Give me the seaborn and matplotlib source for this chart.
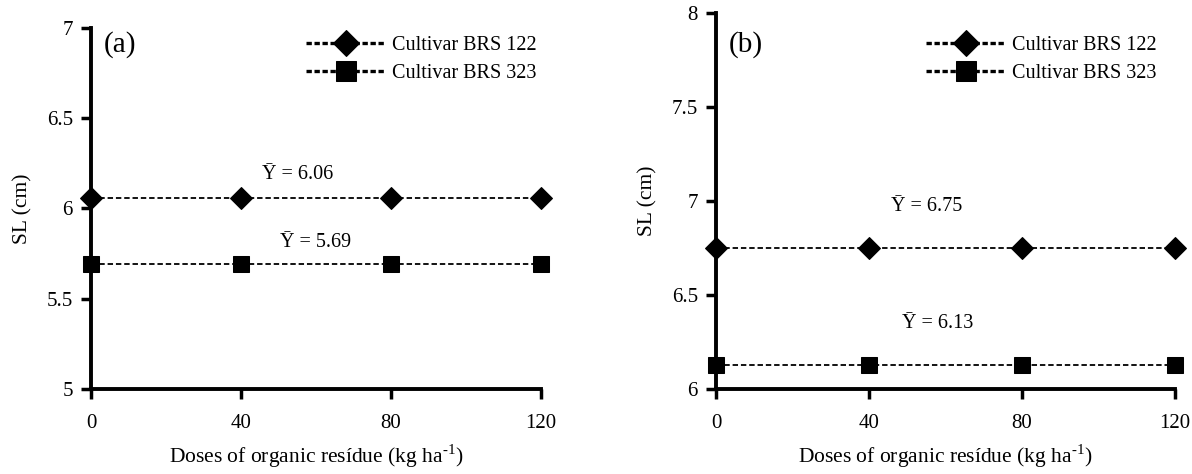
"""Seedling length (SL) of two sorghum cultivars under organic residue doses."""

import matplotlib.pyplot as plt
import pandas as pd
import seaborn as sns


DOSES = [0, 40, 80, 120]
CULTIVARS = ["Cultivar BRS 122", "Cultivar BRS 323"]
SL_A_BRS122 = [6.06, 6.06, 6.06, 6.06]
SL_A_BRS323 = [5.69, 5.69, 5.69, 5.69]
SL_B_BRS122 = [6.75, 6.75, 6.75, 6.75]
SL_B_BRS323 = [6.13, 6.13, 6.13, 6.13]
MEAN_LABELS_A = ["\u0232 = 6.06", "\u0232 = 5.69"]
MEAN_LABELS_B = ["\u0232 = 6.75", "\u0232 = 6.13"]
YTICKS_A = [5, 5.5, 6, 6.5, 7]
YTICKS_B = [6, 6.5, 7, 7.5, 8]
YTICK_LABELS_A = ["5", "5.5", "6", "6.5", "7"]
YTICK_LABELS_B = ["6", "6.5", "7", "7.5", "8"]

W, H = 1192, 474


def build_frame(values_122, values_323):
    return pd.DataFrame(
        {
            "dose": DOSES * 2,
            "sl": values_122 + values_323,
            "cultivar": [CULTIVARS[0]] * 4 + [CULTIVARS[1]] * 4,
        }
    )


def draw_panel(fig, ax, df, yticks, ytick_labels, tag, tag_px, legend_px,
               mean_labels, mean_pos):
    sns.lineplot(
        data=df,
        x="dose",
        y="sl",
        style="cultivar",
        markers={CULTIVARS[0]: "D", CULTIVARS[1]: "s"},
        dashes={CULTIVARS[0]: (3, 1.6), CULTIVARS[1]: (3, 1.6)},
        color="black",
        linewidth=1.3,
        markersize=11,
        markeredgecolor="black",
        ax=ax,
        clip_on=False,
        zorder=5,
        legend=True,
    )

    ax.set_xlim(0, 120)
    ax.set_ylim(yticks[0], yticks[-1])
    ax.set_xticks(DOSES)
    ax.set_yticks(yticks)
    ax.set_yticklabels(ytick_labels)
    ax.set_xlabel("Doses of organic resídue (kg ha$^{\\text{-1}}$)",
                  fontsize=15.5, labelpad=7)
    ax.set_ylabel("SL (cm)", fontsize=15.5, labelpad=10)
    ax.tick_params(axis="both", direction="out", length=7, width=2.5, pad=6,
                   labelsize=15)
    ax.tick_params(axis="x", pad=11)
    for side in ["left", "bottom"]:
        ax.spines[side].set_linewidth(2.8)
    sns.despine(ax=ax)

    fig.text(tag_px[0] / W, 1 - tag_px[1] / H, tag, fontsize=21,
             va="center", ha="left")
    for label, (x, y) in zip(mean_labels, mean_pos):
        ax.text(x, y, label, fontsize=14.5, ha="center", va="center")

    handles, labels = ax.get_legend_handles_labels()
    for handle in handles:
        handle.set_linewidth(2.4)
        handle.set_dashes((1.6, 0.8))
        if handle.get_marker() == "D":
            handle.set_markersize(13)
        else:
            handle.set_markersize(14)
    ax.legend(handles, labels, loc="upper right", frameon=False, fontsize=14.5,
              handlelength=4.0, handletextpad=0.3, labelspacing=0.45,
              borderaxespad=0.0,
              bbox_to_anchor=(legend_px[0] / W, 1 - legend_px[1] / H),
              bbox_transform=fig.transFigure)


def main() -> None:
    sns.set_theme(style="ticks")
    plt.rcParams["font.family"] = ["Liberation Serif", "DejaVu Serif"]
    plt.rcParams["mathtext.fontset"] = "custom"
    plt.rcParams["mathtext.rm"] = "Liberation Serif"
    plt.rcParams["axes.unicode_minus"] = False
    plt.rcParams["axes.edgecolor"] = "black"
    plt.rcParams["xtick.color"] = "black"
    plt.rcParams["ytick.color"] = "black"
    plt.rcParams["text.color"] = "black"
    plt.rcParams["axes.labelcolor"] = "black"

    fig = plt.figure(figsize=(11.92, 4.74), dpi=100)
    ax_a = fig.add_axes([0.0763, 0.1793, 0.3776, 0.7617])
    ax_b = fig.add_axes([0.6007, 0.1793, 0.3850, 0.7933])

    draw_panel(fig, ax_a, build_frame(SL_A_BRS122, SL_A_BRS323), YTICKS_A,
               YTICK_LABELS_A, "(a)", (104, 45), (545, 28),
               MEAN_LABELS_A, [(55, 6.19), (60, 5.81)])
    draw_panel(fig, ax_b, build_frame(SL_B_BRS122, SL_B_BRS323), YTICKS_B,
               YTICK_LABELS_B, "(b)", (729, 45), (1165, 28),
               MEAN_LABELS_B, [(55, 6.97), (58, 6.35)])

    fig.savefig("out.png", dpi=100)
    plt.close(fig)


if __name__ == "__main__":
    main()
